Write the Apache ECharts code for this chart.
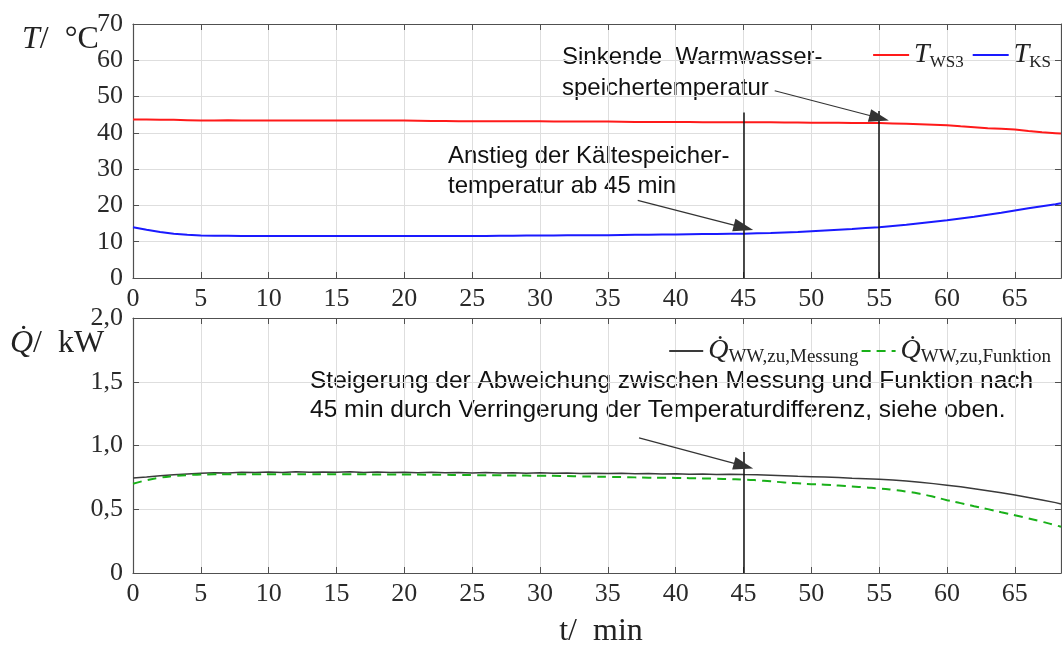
<!DOCTYPE html>
<html>
<head>
<meta charset="utf-8">
<script src="https://cdn.jsdelivr.net/npm/echarts@6/dist/echarts.min.js"></script>
<style>
  html, body { margin: 0; padding: 0; background: #fff; }
  #chart { width: 1062px; height: 648px; }
</style>
</head>
<body>
<div id="chart"></div>
<script>
// Time base in minutes
const minutes = [0,1,2,3,4,5,6,7,8,9,10,11,12,13,14,15,16,17,18,19,20,21,22,23,24,25,26,27,28,29,
  30,31,32,33,34,35,36,37,38,39,40,41,42,43,44,45,46,47,48,49,50,51,52,53,54,55,56,57,58,59,
  60,61,62,63,64,65,66,67,68,68.4];

// Warmwasserspeicher temperature T_WS3 in °C
const tWS3 = [43.7,43.7,43.6,43.6,43.5, 43.4,43.4,43.45,43.4,43.4, 43.4,43.4,43.4,43.4,43.4,
  43.4,43.4,43.4,43.4,43.4, 43.4,43.35,43.3,43.25,43.2, 43.2,43.2,43.2,43.2,43.2,
  43.2,43.15,43.1,43.1,43.1, 43.1,43.05,43.0,43.0,43.0, 43.0,43.0,42.95,42.9,42.9,
  42.9,42.9,42.9,42.85,42.85, 42.8,42.8,42.8,42.75,42.75, 42.7,42.6,42.5,42.4,42.25,
  42.1,41.8,41.55,41.3,41.1, 40.9,40.5,40.15,39.9, 39.8];

// Kältespeicher temperature T_KS in °C
const tKS = [14.0,13.3,12.7,12.2,11.9, 11.7,11.65,11.65,11.6,11.6, 11.6,11.6,11.6,11.6,11.6,
  11.6,11.6,11.6,11.6,11.6, 11.6,11.6,11.6,11.6,11.6, 11.6,11.6,11.65,11.65,11.7,
  11.7,11.7,11.75,11.75,11.8, 11.8,11.85,11.9,11.95,12.0, 12.0,12.05,12.1,12.15,12.2,
  12.2,12.3,12.4,12.55,12.7, 12.9,13.1,13.3,13.5,13.75, 14.0,14.35,14.7,15.1,15.5,
  15.9,16.4,16.9,17.45,18.0, 18.6,19.2,19.75,20.3, 20.6];

// Heat flow, measured, in kW
const qMessung = [0.745,0.752,0.762,0.770,0.776, 0.782,0.786,0.784,0.790,0.788,
  0.792,0.789,0.794,0.790,0.793, 0.791,0.795,0.789,0.792,0.788,
  0.791,0.787,0.790,0.786,0.789, 0.785,0.788,0.784,0.787,0.783,
  0.786,0.782,0.785,0.781,0.783, 0.780,0.782,0.778,0.781,0.777,
  0.779,0.775,0.777,0.773,0.775, 0.772,0.770,0.766,0.762,0.758,
  0.755,0.752,0.749,0.744,0.740, 0.735,0.729,0.721,0.711,0.701,
  0.689,0.676,0.661,0.646,0.629, 0.611,0.592,0.572,0.552, 0.542];

// Heat flow from the model function, in kW
const qFunktion = [0.700,0.728,0.748,0.760,0.768, 0.772,0.774,0.775,0.775,0.775,
  0.775,0.775,0.775,0.775,0.775, 0.775,0.774,0.774,0.773,0.773,
  0.772,0.772,0.771,0.770,0.769, 0.768,0.767,0.766,0.765,0.764,
  0.763,0.762,0.760,0.758,0.756, 0.754,0.752,0.750,0.748,0.747,
  0.746,0.744,0.742,0.739,0.736, 0.733,0.727,0.719,0.710,0.703,
  0.697,0.692,0.686,0.679,0.671, 0.663,0.652,0.639,0.621,0.598,
  0.571,0.548,0.524,0.501,0.477, 0.453,0.428,0.402,0.375, 0.362];

// Axis ranges and tick steps
const xRange = [0, 68.4], xStep = 5;
const tRange = [0, 70], tStep = 10;
const qRange = [0, 2], qStep = 0.5;

// Event markers: vertical line [minute, top value] and arrows [from, to]
const tMarkers = [[45, 45.6], [55, 46.0]];
const tArrows = [[[37.2, 21.4], [45, 13.9]], [[47.3, 51.6], [55, 44.1]]];
const qMarkers = [[45, 0.95]];
const qArrows = [[[37.3, 1.06], [45, 0.84]]];

const serif = 'Liberation Serif';
const axisColor = '#505050';
const gridColor = '#dedede';

const pairs = arr => minutes.map((m, i) => [m, arr[i]]);

function xAxisDef(gridIndex, pos) {
  return {
    type: 'value', gridIndex, position: pos, min: xRange[0], max: xRange[1], interval: xStep,
    axisLine: { show: true, onZero: false, lineStyle: { color: axisColor, width: 1.2 } },
    axisTick: { show: true, inside: true, length: 6, lineStyle: { color: axisColor } },
    splitLine: { show: pos === 'bottom', lineStyle: { color: gridColor, width: 1 } },
    axisLabel: { show: pos === 'bottom', fontFamily: serif, fontSize: 26, color: '#2a2a2a',
      margin: 8, showMaxLabel: false }
  };
}
function yAxisDef(gridIndex, pos, range, step, fmt) {
  return {
    type: 'value', gridIndex, position: pos, min: range[0], max: range[1], interval: step,
    axisLine: { show: true, onZero: false, lineStyle: { color: axisColor, width: 1.2 } },
    axisTick: { show: true, inside: true, length: 6, lineStyle: { color: axisColor } },
    splitLine: { show: pos === 'left', lineStyle: { color: gridColor, width: 1 } },
    axisLabel: { show: pos === 'left', fontFamily: serif, fontSize: 26, color: '#2a2a2a',
      margin: 10, formatter: fmt }
  };
}
const commaFmt = v => (v === 0 ? '0' : v.toFixed(1).replace('.', ','));

function markerLines(markers, arrows) {
  const data = [];
  markers.forEach(m => data.push([{ coord: [m[0], m[1]], symbol: 'none' }, { coord: [m[0], 0], symbol: 'none' }]));
  arrows.forEach(a => data.push([
    { coord: a[0], symbol: 'none', lineStyle: { width: 1.2, color: '#333' } },
    { coord: a[1], symbol: 'triangle', symbolSize: [13, 20], lineStyle: { width: 1.2, color: '#333' } }
  ]));
  return {
    silent: true, animation: false, precision: 4,
    label: { show: false },
    lineStyle: { color: '#111', width: 1.5, type: 'solid' },
    itemStyle: { color: '#000' },
    emphasis: { disabled: true },
    data
  };
}

const legendRich = {
  i: { fontFamily: serif, fontStyle: 'italic', fontSize: 28, color: '#222', lineHeight: 32 },
  s: { fontFamily: serif, fontSize: 17, color: '#222', lineHeight: 18, verticalAlign: 'bottom' },
  q: { fontFamily: serif, fontSize: 19, color: '#222', lineHeight: 19, verticalAlign: 'bottom' }
};
const legendText = {
  'T_WS3': '{i|T}{s|WS3}',
  'T_KS': '{i|T}{s|KS}',
  'Q_Messung': '{i|Q\u0307}{q|WW,zu,Messung}',
  'Q_Funktion': '{i|Q\u0307}{q|WW,zu,Funktion}'
};

const titleRich = {
  i: { fontFamily: serif, fontStyle: 'italic', fontSize: 32, fill: '#222' },
  r: { fontFamily: serif, fontSize: 32, fill: '#222' }
};

const chart = echarts.init(document.getElementById('chart'), null, { renderer: 'canvas' });
chart.setOption({
  animation: false,
  backgroundColor: '#fff',
  grid: [
    { left: 133, right: 1, top: 24, height: 254, containLabel: false },
    { left: 133, right: 1, top: 318, height: 255, containLabel: false }
  ],
  xAxis: [xAxisDef(0, 'bottom'), xAxisDef(0, 'top'), xAxisDef(1, 'bottom'), xAxisDef(1, 'top')],
  yAxis: [
    yAxisDef(0, 'left', tRange, tStep, v => String(v)),
    yAxisDef(0, 'right', tRange, tStep),
    yAxisDef(1, 'left', qRange, qStep, commaFmt),
    yAxisDef(1, 'right', qRange, qStep)
  ],
  legend: [
    { data: ['T_WS3', 'T_KS'], right: 6, top: 36, itemWidth: 36, itemHeight: 14, itemGap: 8,
      itemStyle: { opacity: 0 },
      formatter: n => legendText[n], textStyle: { rich: legendRich }, selectedMode: false },
    { data: ['Q_Messung', 'Q_Funktion'], right: 6, top: 332, itemWidth: 34, itemHeight: 14, itemGap: 2,
      itemStyle: { opacity: 0 },
      formatter: n => legendText[n], textStyle: { rich: legendRich }, selectedMode: false }
  ],
  series: [
    { name: 'T_WS3', type: 'line', xAxisIndex: 0, yAxisIndex: 0, data: pairs(tWS3),
      showSymbol: false, symbol: 'none', lineStyle: { color: '#ff1a1a', width: 2 }, itemStyle: { color: '#ff1a1a' },
      markLine: markerLines(tMarkers, tArrows) },
    { name: 'T_KS', type: 'line', xAxisIndex: 0, yAxisIndex: 0, data: pairs(tKS),
      showSymbol: false, symbol: 'none', lineStyle: { color: '#1a1aff', width: 2 }, itemStyle: { color: '#1a1aff' } },
    { name: 'Q_Messung', type: 'line', xAxisIndex: 2, yAxisIndex: 2, data: pairs(qMessung),
      showSymbol: false, symbol: 'none', lineStyle: { color: '#3a3a3a', width: 1.5 }, itemStyle: { color: '#3a3a3a' },
      markLine: markerLines(qMarkers, qArrows) },
    { name: 'Q_Funktion', type: 'line', xAxisIndex: 2, yAxisIndex: 2, data: pairs(qFunktion), smooth: true,
      showSymbol: false, symbol: 'none', lineStyle: { color: '#19b019', width: 2, type: [9, 6] }, itemStyle: { color: '#19b019' } }
  ],
  graphic: [
    { type: 'text', x: 22, y: 40, silent: true, style: { text: '{i|T}{r|/\u2002°C}', verticalAlign: 'middle', rich: titleRich } },
    { type: 'text', x: 10, y: 344, silent: true, style: { text: '{i|Q\u0307}{r|/\u2002kW}', verticalAlign: 'middle', rich: titleRich } },
    { type: 'text', x: 601, y: 632, silent: true, style: { text: '{r|t/\u2002min}', align: 'center', verticalAlign: 'middle', rich: titleRich } },
    { type: 'text', x: 562, y: 42, silent: true, style: { text: 'Sinkende  Warmwasser-\nspeichertemperatur',
      font: '24px "Liberation Sans"', lineHeight: 31, fill: '#111' } },
    { type: 'text', x: 448, y: 141, silent: true, style: { text: 'Anstieg der Kältespeicher-\ntemperatur ab 45 min',
      font: '24px "Liberation Sans"', lineHeight: 30, fill: '#111' } },
    { type: 'text', x: 310, y: 367, silent: true, style: { text: 'Steigerung der Abweichung zwischen Messung und Funktion nach\n45 min durch Verringerung der Temperaturdifferenz, siehe oben.',
      font: '24.5px "Liberation Sans"', lineHeight: 29, fill: '#111' } }
  ]
});
</script>
</body>
</html>
